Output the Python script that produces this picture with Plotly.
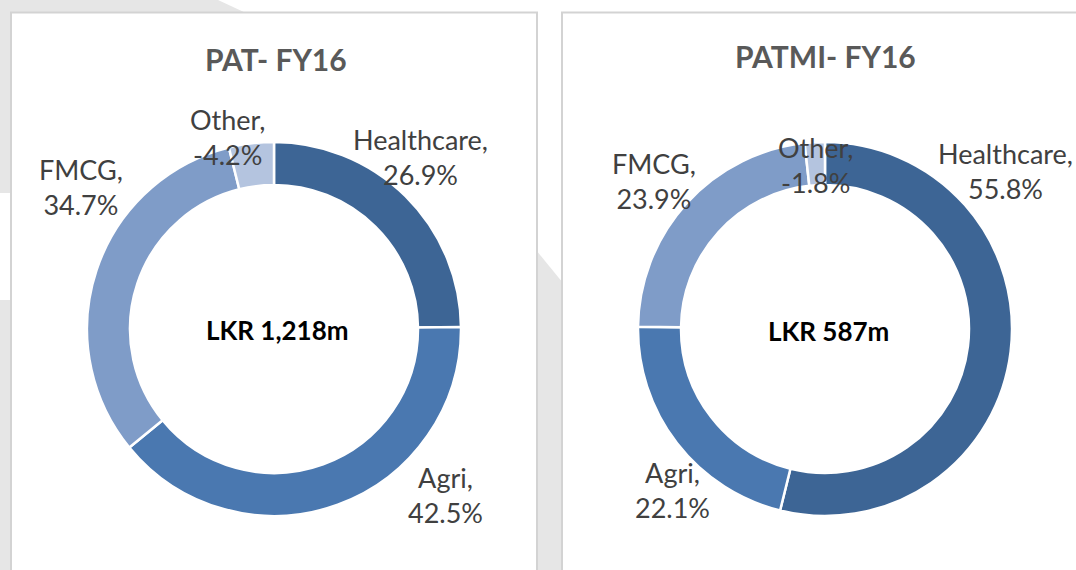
import plotly.graph_objects as go

# ---- data ----
segments = ["Healthcare", "Agri", "FMCG", "Other"]
pat_share = [26.9, 42.5, 34.7, -4.2]
patmi_share = [55.8, 22.1, 23.9, -1.8]
titles = ["PAT- FY16", "PATMI- FY16"]
totals = ["LKR 1,218m", "LKR 587m"]
seg_colors = ["#3d6595", "#4a78b0", "#7f9cc8", "#b4c4df"]

W, H = 1076, 570


def px(x):
    return x / W


def py(y):
    return 1 - y / H


fig = go.Figure()

# pie domains (pixel boxes: x0, x1, ytop, ybottom)
domains = [(87, 461, 142, 516), (638, 1012, 142, 516)]
for share, (x0, x1, yt, yb) in zip([pat_share, patmi_share], domains):
    fig.add_trace(go.Pie(
        labels=segments,
        values=[abs(v) for v in share],
        hole=0.77,
        sort=False,
        direction="clockwise",
        rotation=0,
        textinfo="none",
        hoverinfo="label+percent",
        marker=dict(colors=seg_colors, line=dict(color="white", width=2.5)),
        domain=dict(x=[px(x0), px(x1)], y=[py(yb), py(yt)]),
        showlegend=False,
    ))

# ---- background shapes ----
gray = "#e6e6e6"
shapes = []


def poly(pts, fill, line=None, width=0):
    d = "M " + " L ".join(f"{px(x):.5f},{py(y):.5f}" for x, y in pts) + " Z"
    return dict(type="path", path=d, xref="paper", yref="paper",
                fillcolor=fill, line=dict(color=line or fill, width=width),
                layer="below")


shapes.append(poly([(0, 0), (218, 0), (246, 13), (0, 13)], gray))
shapes.append(poly([(0, 0), (12, 0), (12, 193), (0, 193)], gray))
shapes.append(poly([(0, 300), (12, 300), (12, 570), (0, 570)], gray))
shapes.append(poly([(536, 250), (563, 283), (563, 570), (536, 570)], gray))
# panels
for (x0, x1) in [(11, 537), (562, 1090)]:
    shapes.append(dict(type="rect", xref="paper", yref="paper",
                       x0=px(x0), x1=px(x1), y0=py(580), y1=py(12.5),
                       fillcolor="white", line=dict(color="#d3d3d3", width=2),
                       layer="below"))

# ---- annotations ----
annotations = []
title_pos = [(276, 59), (825, 56)]
center_pos = [(277, 330), (828, 331)]
for t, (x, y) in zip(titles, title_pos):
    annotations.append(dict(text=f"<b>{t}</b>", x=px(x), y=py(y), xref="paper", yref="paper",
                            showarrow=False, xanchor="center", yanchor="middle",
                            font=dict(family="Lato", size=30, color="#595959")))
for t, (x, y) in zip(totals, center_pos):
    annotations.append(dict(text=f"<b>{t}</b>", x=px(x), y=py(y), xref="paper", yref="paper",
                            showarrow=False, xanchor="center", yanchor="middle",
                            font=dict(family="Lato", size=26, color="#000000")))

label_pos = [
    [(420, 157), (445, 495), (81, 187), (227, 137)],
    [(1005, 171), (672, 490), (654, 181), (815, 165)],
]
for share, positions in zip([pat_share, patmi_share], label_pos):
    for seg, v, (x, y) in zip(segments, share, positions):
        annotations.append(dict(text=f"{seg},<br>{v:.1f}%", x=px(x), y=py(y),
                                xref="paper", yref="paper", showarrow=False,
                                xanchor="center", yanchor="middle", align="center",
                                font=dict(family="Lato", size=27, color="#404040")))

fig.update_layout(
    width=W, height=H,
    margin=dict(l=0, r=0, t=0, b=0),
    paper_bgcolor="white",
    plot_bgcolor="white",
    shapes=shapes,
    annotations=annotations,
)

fig.write_html(
    "out.html",
    config={"displayModeBar": False},
    post_script="document.body.style.margin='0';document.body.style.overflow='hidden';",
)
